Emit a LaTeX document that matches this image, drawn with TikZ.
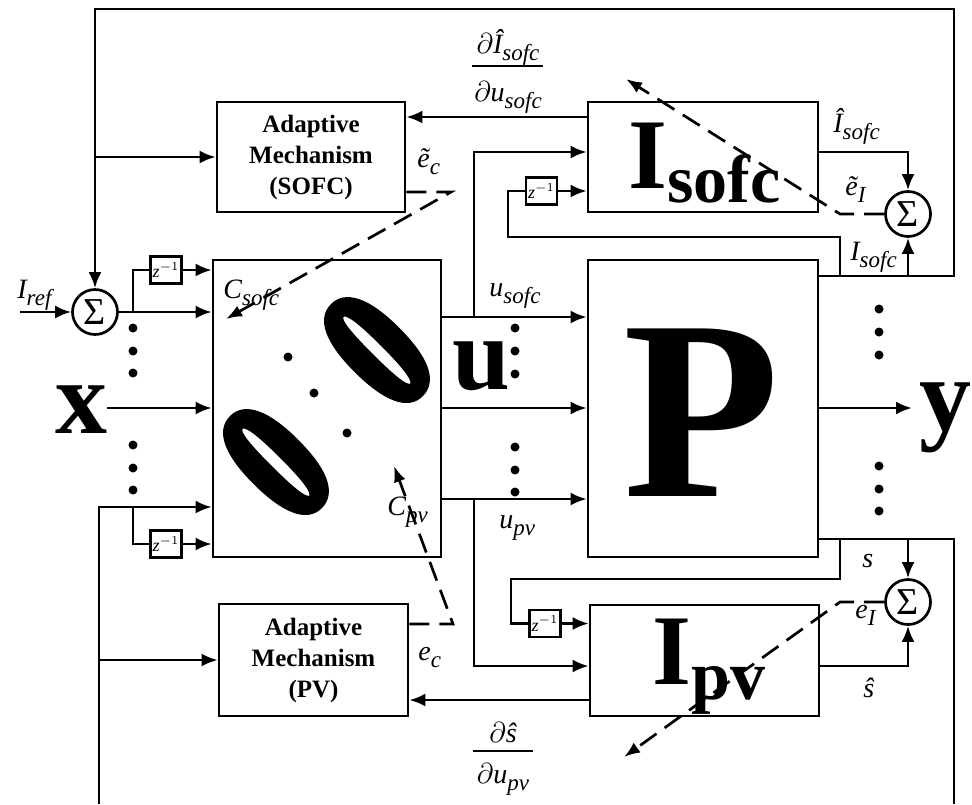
\documentclass[tikz,border=0pt]{standalone}
\usepackage{fontspec}
\setmainfont{Liberation Serif}
\usepackage{graphicx}
\usetikzlibrary{arrows.meta}
\font\zerofont="Liberation Serif/B:embolden=5" at 78pt
\newcommand\sbs[1]{\raisebox{-3.5pt}{\fontsize{11.5}{12}\selectfont\itshape #1}}
\begin{document}
\begin{tikzpicture}[x=0.5pt,y=-0.5pt,
  box/.style={draw,line width=1.35pt,inner sep=0pt},
  sumnode/.style={draw,circle,line width=1.35pt,minimum size=22.5pt,inner sep=0pt,font=\fontsize{19}{19}\selectfont},
  zbox/.style={draw,line width=1.2pt,minimum width=15.5pt,minimum height=13.5pt,inner sep=0pt,font=\fontsize{9}{9}\selectfont},
  lab/.style={anchor=base west,inner sep=0pt,font=\fontsize{14}{16}\selectfont\itshape},
  amtext/.style={align=center,font=\fontsize{12.5}{15.5}\selectfont\bfseries},
  big/.style={anchor=base,inner sep=0pt},
  ln/.style={line width=1.35pt},
  arr/.style={line width=1.35pt,-{Latex[length=8pt,width=6.5pt]}},
  darr/.style={line width=1.35pt,dash pattern=on 10pt off 5pt,-{Latex[length=8pt,width=6pt]}},
  dotn/.style={circle,fill,inner sep=0pt,minimum size=4.5pt},
  zeroglyph/.style={rotate=45,inner sep=0pt},
]
\useasboundingbox (0,0) rectangle (972,804);

% levels
\coordinate (y117) at (0,117);
\coordinate (y152) at (0,152);
\coordinate (y192) at (0,192);
\coordinate (y276) at (0,276);
\coordinate (y317) at (0,317);
\coordinate (y408) at (0,408);
\coordinate (y499) at (0,499);
\coordinate (y507) at (0,507);
\coordinate (y539) at (0,539);
\coordinate (y624) at (0,624);
\coordinate (y666) at (0,666);
\coordinate (y700) at (0,700);

% boxes
\node[box,minimum width=94pt,minimum height=55pt,amtext] (AMs) at (311,157) {Adaptive\\Mechanism\\(SOFC)};
\node[box,minimum width=115pt,minimum height=55pt] (Is) at (703,157) {};
\node[box,minimum width=114pt,minimum height=148.5pt] (C) at (327,408.5) {};
\node[box,minimum width=115pt,minimum height=148.5pt] (P) at (703,408.5) {};
\node[box,minimum width=94.5pt,minimum height=56pt,amtext] (AMp) at (313.5,660) {Adaptive\\Mechanism\\(PV)};
\node[box,minimum width=114.5pt,minimum height=55.5pt] (Ip) at (704.5,660.5) {};

% big symbols
\node[big,font=\fontsize{128}{128}\selectfont\bfseries] (Pl) at (702,496) {P};
\node[big,anchor=base west] (Isl) at (628,188) {\fontsize{50}{50}\selectfont\bfseries I\raisebox{-7pt}{\fontsize{34}{34}\selectfont sofc}};
\node[big,anchor=base west] (Ipl) at (652,684) {\fontsize{50}{50}\selectfont\bfseries I\raisebox{-7.5pt}{\fontsize{35}{35}\selectfont pv}};
\node[big,font=\fontsize{52}{52}\selectfont\bfseries] (ul) at (481,389) {u};
\node[big,font=\fontsize{52}{52}\selectfont\bfseries] (xl) at (81,433) {x};
\node[big,font=\fontsize{52}{52}\selectfont\bfseries] (yl) at (945,430) {y};
\node[zeroglyph] (zA) at (377,350) {\scalebox{0.85}[1.15]{\zerofont 0}};
\node[zeroglyph] (zB) at (276,462) {\scalebox{0.85}[1.15]{\zerofont 0}};

% sums and delays
\node[sumnode] (S1) at (95,312) {Σ};
\node[sumnode] (S2) at (908,214) {Σ};
\node[sumnode] (S3) at (908,602) {Σ};
\node[zbox] (z1) at (166,270) {$\mathit{z}^{-1}$};
\node[zbox] (z2) at (166,544) {$\mathit{z}^{-1}$};
\node[zbox] (z3) at (541.5,191) {$\mathit{z}^{-1}$};
\node[zbox] (z4) at (545,623.5) {$\mathit{z}^{-1}$};

% junction coordinates
\coordinate (jTop) at (95,157);
\coordinate (jL1) at (133,312);
\coordinate (jL2) at (133,507);
\coordinate (jL3) at (99,660);
\coordinate (jU1) at (474,317);
\coordinate (jU2) at (474,499);
\coordinate (jR1) at (840,276);
\coordinate (jR2) at (908,276);
\coordinate (jR3) at (840,539);
\coordinate (jR4) at (908,539);

% top loop
\draw[arr] (P.east |- y276) -- (954,276) -- (954,9) -- (95,9) -- (S1.north);
\draw[arr] (jTop) -- (AMs.west);
\draw[arr] (Is.west |- y117) -- (AMs.east |- y117);
\draw[arr] (jU1) -- (474,152) -- (Is.west |- y152);
\draw[ln] (jR1) -- (840,237) -- (508,237) -- (508,191) -- (z3.west);
\draw[arr] (z3.east) -- (Is.west |- z3.east);
\draw[arr] (Is.east |- y152) -- (908,152) -- (S2.north);
\draw[arr] (jR2) -- (S2.south);
\draw[darr] (S2.west) -- (840,214) -- (626,79);
\draw[darr] (AMs.east |- y192) -- (451,192) -- (226,319);

% left side
\draw[arr] (20,312) -- (S1.west);
\draw[arr] (S1.east) -- (C.west |- S1.east);
\draw[ln] (jL1) -- (133,270) -- (z1.west);
\draw[arr] (z1.east) -- (C.west |- z1.east);
\draw[arr] (xl.east |- y408) -- (C.west |- y408);
\draw[arr] (99,804) -- (99,507) -- (C.west |- y507);
\draw[ln] (jL2) -- (133,544) -- (z2.west);
\draw[arr] (z2.east) -- (C.west |- z2.east);
\draw[arr] (jL3) -- (AMp.west);

% middle
\draw[arr] (C.east |- y317) -- (P.west |- y317);
\draw[arr] (C.east |- y408) -- (P.west |- y408);
\draw[arr] (C.east |- y499) -- (P.west |- y499);
\draw[arr] (jU2) -- (474,666) -- (Ip.west |- y666);
\draw[arr] (Ip.west |- y700) -- (AMp.east |- y700);
\draw[darr] (AMp.east |- y624) -- (453,624) -- (394,466);

% right bottom
\draw[ln] (P.east |- y539) -- (954,539) -- (954,804);
\draw[arr] (jR4) -- (S3.north);
\draw[ln] (jR3) -- (840,579) -- (511,579) -- (511,623.5) -- (z4.west);
\draw[arr] (z4.east) -- (Ip.west |- z4.east);
\draw[arr] (Ip.east |- y666) -- (908,666) -- (S3.south);
\draw[darr] (S3.west) -- (840,602) -- (624,757);
\draw[arr] (P.east |- y408) -- (912,408);

% dots
\foreach \yy [count=\i] in {328,351,373,445,468,490} \node[dotn] (dl\i) at (133,\yy) {};
\foreach \yy [count=\i] in {328,351,374,447,470,492} \node[dotn] (dm\i) at (515,\yy) {};
\foreach \yy [count=\i] in {309,332,355,466,489,511} \node[dotn] (dr\i) at (879,\yy) {};
\node[dotn] (dc1) at (288,357) {};
\node[dotn] (dc2) at (314,393) {};
\node[dotn] (dc3) at (347,433) {};

% labels
\node[lab] (lIref) at (17,298) {I\sbs{ref}};
\node[lab] (lCs) at (223,298) {C\sbs{sofc}};
\node[lab] (lCp) at (387,515) {C\sbs{pv}};
\node[lab] (lus) at (489,296) {u\sbs{sofc}};
\node[lab] (lup) at (499,528) {u\sbs{pv}};
\node[lab] (lec) at (417,167) {ẽ\sbs{c}};
\node[lab] (lec2) at (418,660) {e\sbs{c}};
\node[lab] (lIh) at (833,132) {Î\sbs{sofc}};
\node[lab] (leI) at (845,195) {ẽ\sbs{I}};
\node[lab] (lIs) at (850,260) {I\sbs{sofc}};
\node[lab] (ls) at (862,567) {s};
\node[lab] (leI2) at (855,618) {e\sbs{I}};
\node[lab] (lsh) at (863,697) {ŝ};

% fractions
\node[lab,anchor=base] (f1n) at (508,53) {$\partial$Î\sbs{sofc}};
\node[lab,anchor=base] (f1d) at (508,101) {$\partial$u\sbs{sofc}};
\draw[line width=1pt] (472,66) -- (543,66);
\node[lab,anchor=base] (f2n) at (503,742) {$\partial$ŝ};
\node[lab,anchor=base] (f2d) at (503,783) {$\partial$u\sbs{pv}};
\draw[line width=1pt] (473,751) -- (533,751);
\end{tikzpicture}
\end{document}
